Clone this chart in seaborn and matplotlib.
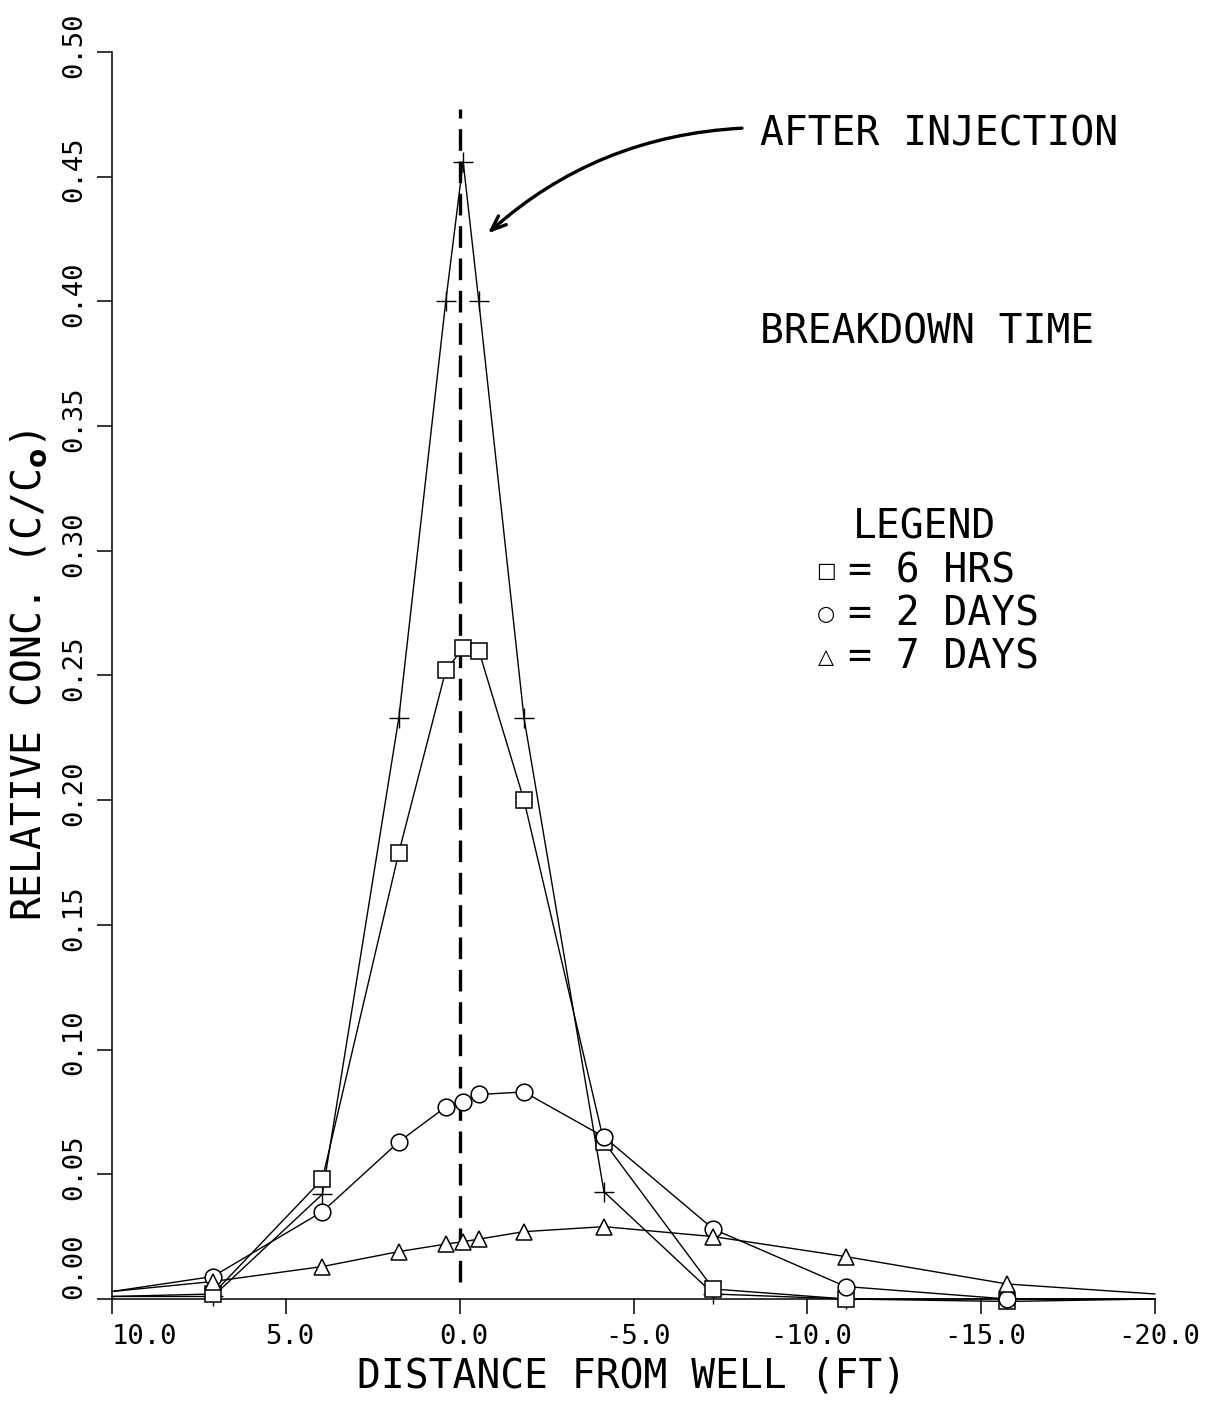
import numpy as np
import pandas as pd
import matplotlib
matplotlib.use("Agg")
import matplotlib.pyplot as plt
import matplotlib.transforms as mtransforms
import seaborn as sns


# Data
# ==================================================

# distance from well (ft); first and last entries are the curve ends at the axis limits
dist = [10.0, 7.1, 3.95, 1.75, 0.4, -0.1, -0.55, -1.85, -4.15, -7.3, -11.1, -15.75, -20.0]
has_marker = [False] + [True] * 11 + [False]

conc_inject = [0.001, 0.001, 0.042, 0.233, 0.400, 0.456, 0.400, 0.233, 0.043, 0.002, 0.000, 0.000, 0.000]
conc_6hrs = [0.001, 0.002, 0.048, 0.179, 0.252, 0.261, 0.260, 0.200, 0.063, 0.004, 0.000, -0.001, 0.000]
conc_2days = [0.003, 0.009, 0.035, 0.063, 0.077, 0.079, 0.082, 0.083, 0.065, 0.028, 0.005, 0.000, 0.000]
conc_7days = [0.003, 0.007, 0.013, 0.019, 0.022, 0.023, 0.024, 0.027, 0.029, 0.025, 0.017, 0.006, 0.002]

series_names = ["inject", "6 HRS", "2 DAYS", "7 DAYS"]
series_markers = {"inject": "+", "6 HRS": "s", "2 DAYS": "o", "7 DAYS": "^"}

xticks = [10.0, 5.0, 0.0, -5.0, -10.0, -15.0, -20.0]
xtick_labels = ["10.0", "5.0", "0.0", "-5.0", "-10.0", "-15.0", "-20.0"]
yticks = [0.00, 0.05, 0.10, 0.15, 0.20, 0.25, 0.30, 0.35, 0.40, 0.45, 0.50]
ytick_labels = ["0.00", "0.05", "0.10", "0.15", "0.20", "0.25", "0.30", "0.35", "0.40", "0.45", "0.50"]

legend_symbols = ["\u25a1", "\u25cb", "\u25b3"]
legend_labels = ["= 6 HRS", "= 2 DAYS", "= 7 DAYS"]


# Build long table
# ==================================================
frames = []
for name, vals in zip(series_names, [conc_inject, conc_6hrs, conc_2days, conc_7days]):
    frames.append(pd.DataFrame({"dist": dist, "conc": vals, "series": name, "marker": has_marker}))
df = pd.concat(frames, ignore_index=True)
pts = df[df["marker"]]

sns.set_theme(style="ticks")
plt.rcParams["font.family"] = ["DejaVu Sans Mono", "DejaVu Sans"]
plt.rcParams["axes.unicode_minus"] = False
plt.rcParams["text.color"] = "black"
plt.rcParams["axes.labelcolor"] = "black"

fig = plt.figure(figsize=(12.12, 14.04), dpi=100)
ax = fig.add_axes([0.0924, 0.0748, 0.8606, 0.8882])

black = {n: "black" for n in series_names}

# curves
sns.lineplot(data=df, x="dist", y="conc", hue="series", palette=black, sort=True,
             estimator=None, lw=1.0, legend=False, ax=ax, clip_on=False)

# markers (hollow)
for name in series_names:
    sub = pts[pts["series"] == name]
    m = series_markers[name]
    if m == "+":
        ax.plot(sub["dist"], sub["conc"], ls="none", marker="+", ms=15, mew=1.0,
                color="black", clip_on=False, zorder=4)
    else:
        ax.plot(sub["dist"], sub["conc"], ls="none", marker=m, ms=12, mew=1.1,
                mfc="white", mec="black", clip_on=False, zorder=4)

# well location
ax.vlines(0.0, 0.007, 0.477, colors="black", linestyles=(0, (6.5, 3.2)), lw=2.4, zorder=3)

ax.set_xlim(10, -20)
ax.set_ylim(0, 0.5)
ax.set_xticks(xticks)
ax.set_xticklabels(xtick_labels)
ax.set_yticks(yticks)
ax.set_yticklabels(ytick_labels, rotation=90, va="center")
ax.tick_params(axis="both", direction="out", length=11, width=1.1, labelsize=19.5,
               colors="black", pad=7)
for s in ["left", "bottom"]:
    ax.spines[s].set_linewidth(1.1)
    ax.spines[s].set_color("black")
sns.despine(ax=ax)

# nudge tick labels like the plotter did
xlabs = ax.get_xticklabels()
xlabs[0].set_ha("left")
for lab in xlabs[1:]:
    lab.set_transform(lab.get_transform() + mtransforms.ScaledTranslation(4 / 100, 0, fig.dpi_scale_trans))
ylabs = ax.get_yticklabels()
ylabs[0].set_va("bottom")
for lab in ylabs[1:]:
    lab.set_transform(lab.get_transform() + mtransforms.ScaledTranslation(0, 7 / 100, fig.dpi_scale_trans))

ax.set_xlabel("DISTANCE FROM WELL (FT)", fontsize=28.5)
ax.set_ylabel("RELATIVE CONC. (C/C$_\\mathbf{o}$)", fontsize=28.5)
ax.xaxis.set_label_coords(0.498, -0.046)
ax.yaxis.set_label_coords(-0.060, 0.5)

# annotations
fig.text(0.627, 0.904, "AFTER INJECTION", fontsize=28.5, va="center", ha="left")
fig.text(0.627, 0.763, "BREAKDOWN TIME", fontsize=28.5, va="center", ha="left")
fig.text(0.763, 0.624, "LEGEND", fontsize=28.5, va="center", ha="center")
for i, (sym, lab) in enumerate(zip(legend_symbols, legend_labels)):
    y = 0.593 - i * 0.0305
    fig.text(0.6815, y, sym, fontsize=15, va="center", ha="center",
             family=["DejaVu Sans", "DejaVu Sans Mono"])
    fig.text(0.700, y, lab, fontsize=28.5, va="center", ha="left")

ax.annotate("", xy=(-0.75, 0.4265), xytext=(-8.2, 0.4695),
            arrowprops=dict(arrowstyle="->,head_length=0.9,head_width=0.35", lw=2.4,
                            color="black", connectionstyle="arc3,rad=0.18"))

plt.savefig("out.png", dpi=100)
